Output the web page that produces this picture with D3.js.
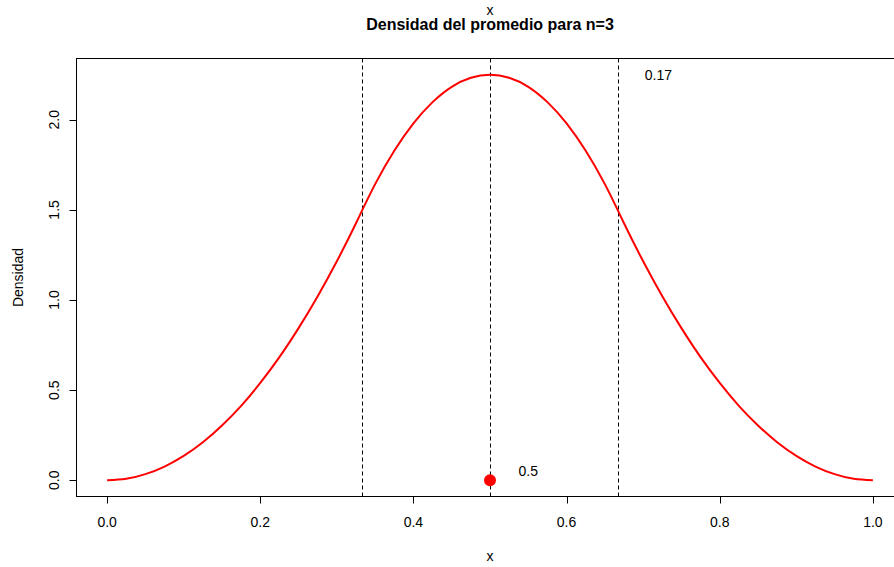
<!DOCTYPE html>
<html>
<head>
<meta charset="utf-8">
<script src="https://cdn.jsdelivr.net/npm/d3@7"></script>
<style>
  body { margin: 0; background: #fff; }
  svg text { font-family: "Liberation Sans", Arial, sans-serif; fill: #000; }
</style>
</head>
<body>
<svg id="chart" width="894" height="567"></svg>
<script>
// density of the mean of 3 uniforms
var xs = [0, 0.025, 0.05, 0.075, 0.1, 0.125, 0.15, 0.175, 0.2, 0.225, 0.25, 0.275, 0.3, 0.325, 0.3333,
          0.35, 0.375, 0.4, 0.425, 0.45, 0.475, 0.5, 0.525, 0.55, 0.575, 0.6, 0.625, 0.65, 0.6667,
          0.675, 0.7, 0.725, 0.75, 0.775, 0.8, 0.825, 0.85, 0.875, 0.9, 0.925, 0.95, 0.975, 1];
var ys = [0, 0.008, 0.034, 0.076, 0.135, 0.211, 0.304, 0.413, 0.54, 0.683, 0.844, 1.021, 1.215, 1.426, 1.5,
          1.643, 1.828, 1.98, 2.098, 2.183, 2.233, 2.25, 2.233, 2.183, 2.098, 1.98, 1.828, 1.643, 1.5,
          1.426, 1.215, 1.021, 0.844, 0.683, 0.54, 0.413, 0.304, 0.211, 0.135, 0.076, 0.034, 0.008, 0];
var vlines = [0.3333, 0.5, 0.6667];
var xTicks = [0, 0.2, 0.4, 0.6, 0.8, 1.0];
var yTicks = [0, 0.5, 1.0, 1.5, 2.0];
var notes = [{x: 0.72, y: 2.25, label: '0.17'}, {x: 0.55, y: 0.05, label: '0.5'}];
var point = {x: 0.5, y: 0};

var svg = d3.select('#chart');
var plotLeft = 76.5, plotRight = 903.5, plotTop = 58.5, plotBottom = 496.5;
var fs = '14px';

var x = d3.scaleLinear().domain([-0.04, 1.04]).range([plotLeft, plotRight]);
var y = d3.scaleLinear().domain([-0.09, 2.34]).range([plotBottom, plotTop]);

// titles
svg.append('text').attr('x', (plotLeft + plotRight) / 2).attr('y', 15)
    .attr('text-anchor', 'middle').style('font-size', fs).text('x');
svg.append('text').attr('x', (plotLeft + plotRight) / 2).attr('y', 29.5)
    .attr('text-anchor', 'middle').style('font-size', '16px').style('font-weight', 'bold')
    .text('Densidad del promedio para n=3');

// dashed verticals
svg.selectAll('.vline').data(vlines).enter().append('line')
    .attr('x1', d => Math.round(x(d)) + 0.5).attr('x2', d => Math.round(x(d)) + 0.5)
    .attr('y1', plotTop).attr('y2', plotBottom)
    .attr('stroke', '#000').attr('stroke-width', 1).attr('stroke-dasharray', '4,3');

// curve
var line = d3.line().x((d, i) => x(xs[i])).y(d => y(d)).curve(d3.curveMonotoneX);
svg.append('path').datum(ys).attr('d', line)
    .attr('fill', 'none').attr('stroke', '#ff0000').attr('stroke-width', 2);

// point
svg.append('circle').attr('cx', x(point.x)).attr('cy', y(point.y)).attr('r', 6).attr('fill', '#ff0000');

// annotations
svg.selectAll('.note').data(notes).enter().append('text')
    .attr('x', d => x(d.x)).attr('y', d => y(d.y)).attr('dy', '0.35em')
    .attr('text-anchor', 'middle').style('font-size', fs).text(d => d.label);

// box
svg.append('rect').attr('x', plotLeft).attr('y', plotTop)
    .attr('width', plotRight - plotLeft).attr('height', plotBottom - plotTop)
    .attr('fill', 'none').attr('stroke', '#000').attr('stroke-width', 1);

// x axis
var xAxis = svg.append('g');
xAxis.append('line').attr('x1', x(0)).attr('x2', x(1)).attr('y1', plotBottom).attr('y2', plotBottom).attr('stroke', '#000');
xAxis.selectAll('.xt').data(xTicks).enter().append('line')
    .attr('x1', d => Math.round(x(d)) + 0.5).attr('x2', d => Math.round(x(d)) + 0.5)
    .attr('y1', plotBottom).attr('y2', plotBottom + 7).attr('stroke', '#000');
xAxis.selectAll('.xl').data(xTicks).enter().append('text')
    .attr('x', d => x(d)).attr('y', plotBottom + 30.5).attr('text-anchor', 'middle')
    .style('font-size', fs).text(d => d3.format('.1f')(d));
svg.append('text').attr('x', (plotLeft + plotRight) / 2).attr('y', 561).attr('text-anchor', 'middle')
    .style('font-size', fs).text('x');

// y axis
var yAxis = svg.append('g');
yAxis.selectAll('.yt').data(yTicks).enter().append('line')
    .attr('x1', plotLeft - 7).attr('x2', plotLeft)
    .attr('y1', d => Math.round(y(d)) + 0.5).attr('y2', d => Math.round(y(d)) + 0.5).attr('stroke', '#000');
yAxis.selectAll('.yl').data(yTicks).enter().append('text')
    .attr('transform', d => `translate(${plotLeft - 18}, ${y(d)}) rotate(-90)`)
    .attr('text-anchor', 'middle').style('font-size', fs).text(d => d3.format('.1f')(d));
svg.append('text').attr('transform', `translate(23, ${(plotTop + plotBottom) / 2}) rotate(-90)`)
    .attr('text-anchor', 'middle').style('font-size', fs).text('Densidad');
</script>
</body>
</html>
